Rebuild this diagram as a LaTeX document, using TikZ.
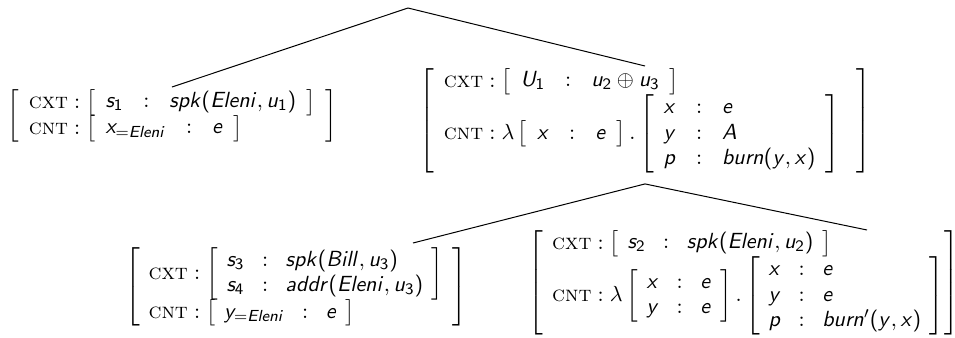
\documentclass[11pt,tikz,border=0pt]{standalone}
\usepackage{amsmath,amsfonts,amssymb}
\usepackage{xcolor}
\usepackage{tikz}
\usetikzlibrary{positioning,calc}

% sans slanted letters and sans digits in math
\DeclareSymbolFont{sfletters}{OT1}{cmss}{m}{sl}
\DeclareSymbolFont{sfdigits}{OT1}{cmss}{m}{n}
\makeatletter
\count@=65
\loop
\mathcode\count@=\numexpr"7000+\symsfletters*"100+\count@\relax
\advance\count@\@ne
\ifnum\count@<91 \repeat
\count@=97
\loop
\mathcode\count@=\numexpr"7000+\symsfletters*"100+\count@\relax
\advance\count@\@ne
\ifnum\count@<123 \repeat
\count@=48
\loop
\mathcode\count@=\numexpr"7000+\symsfdigits*"100+\count@\relax
\advance\count@\@ne
\ifnum\count@<58 \repeat
\mathcode`(=\numexpr"4000+\symsfdigits*"100+`(\relax
\mathcode`)=\numexpr"5000+\symsfdigits*"100+`)\relax
\makeatother

\newcommand{\cxt}{\textsc{cxt}}
\newcommand{\cnt}{\textsc{cnt}}
\renewcommand{\arraystretch}{0.93}

\begin{document}
\begin{tikzpicture}[
	avm/.style={
		anchor=north,
		inner sep=1pt
	},
	tightavm/.style={
		avm,
		execute at begin node={\setlength{\arraycolsep}{4.4pt}}
	},
	branch/.style={
		line width=0.5pt
	}
	]
	
	\useasboundingbox (0,0) rectangle (477.5pt,-169pt);
	
	%=====================================================================
	% Root and first level
	%=====================================================================
	
	\coordinate (root) at (204pt,-4pt);
	
	\node[avm] (cxtA) at (86pt,-43.5pt)
	{$\left[\begin{array}{l}
			\cxt : \left[\begin{array}{lcl} s_1 & {:} & spk(Eleni,u_1) \end{array}\right]\\
			\cnt : \left[\begin{array}{lcl} x_{=Eleni} & {:} & e \end{array}\right]
		\end{array}\right]$};
	
	\node[avm] (cxtB) at (322.5pt,-33pt)
	{$\left[\begin{array}{l}
			\cxt : \left[\begin{array}{lcl} U_1 & {:} & u_2\oplus u_3 \end{array}\right]\\
			\cnt : \lambda\left[\begin{array}{lcl} x & {:} & e \end{array}\right].
			\left[\begin{array}{lcl} x & {:} & e\\ y & {:} & A\\ p & {:} & burn(y,x) \end{array}\right]\;
		\end{array}\right]$};
	
	\draw[branch] (root) -- (cxtA.north);
	\draw[branch] (root) -- (cxtB.north);
	
	%=====================================================================
	% Second level
	%=====================================================================
	
	\coordinate[below=4pt of cxtB] (split);
	
	\node[tightavm] (cxtC) at (148pt,-122.5pt)
	{$\left[\begin{array}{l}
			\cxt : \left[\begin{array}{lcl} s_3 & {:} & spk(Bill,u_3)\\ s_4 & {:} & addr(Eleni,u_3) \end{array}\right]\\
			\cnt : \left[\begin{array}{lcl} y_{=Eleni} & {:} & e \end{array}\right]
		\end{array}\right]$};
	
	\node[tightavm] (cxtD) at (372pt,-114pt)
	{$\left[\begin{array}{l@{}}
			\cxt : \left[\begin{array}{lcl} s_2 & {:} & spk(Eleni,u_2) \end{array}\right]\\
			\cnt : \lambda\left[\begin{array}{lcl} x & {:} & e\\ y & {:} & e \end{array}\right].
			\left[\begin{array}{lcl} x & {:} & e\\ y & {:} & e\\ p & {:} & burn'(y,x) \end{array}\right]
		\end{array}\right]$};
	
	\draw[branch] (split) -- ($(cxtC.north)+(58.5pt,1pt)$);
	\draw[branch] (split) -- ($(cxtD.north)+(61.5pt,-1pt)$);
	
\end{tikzpicture}
\end{document}
